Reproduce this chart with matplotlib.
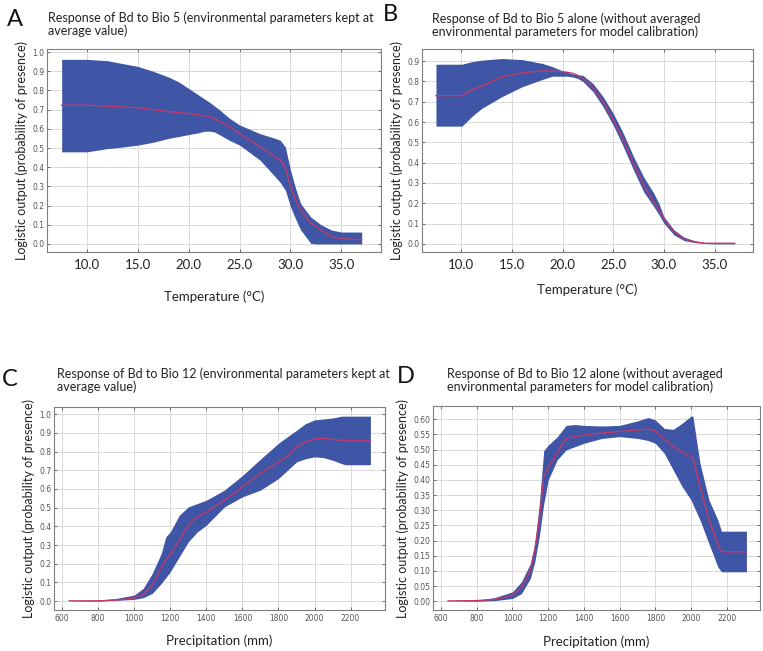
import numpy as np
import matplotlib.pyplot as plt

# ---- data ----
# A: Bio 5, other parameters at average
a_x = [7.5, 10, 12, 13.5, 15, 16.5, 18, 19, 20, 21, 21.5, 22, 22.5, 23, 24, 25, 27, 28.5, 29, 29.5, 30, 30.5, 31, 32, 32.5, 33, 34, 35, 37]
a_mean = [0.723, 0.723, 0.718, 0.714, 0.71, 0.70, 0.69, 0.685, 0.68, 0.672, 0.668, 0.665, 0.655, 0.64, 0.61, 0.575, 0.506, 0.455, 0.437, 0.40, 0.30, 0.229, 0.177, 0.107, 0.09, 0.073, 0.038, 0.027, 0.022]
a_low = [0.48, 0.48, 0.497, 0.505, 0.515, 0.53, 0.55, 0.56, 0.57, 0.58, 0.587, 0.588, 0.584, 0.57, 0.54, 0.515, 0.437, 0.35, 0.32, 0.28, 0.194, 0.13, 0.073, 0.003, 0.0, 0.0, 0.0, 0.0, 0.0]
a_up = [0.962, 0.962, 0.955, 0.94, 0.925, 0.90, 0.87, 0.845, 0.81, 0.775, 0.757, 0.74, 0.72, 0.70, 0.655, 0.62, 0.575, 0.55, 0.54, 0.505, 0.385, 0.29, 0.21, 0.14, 0.12, 0.10, 0.073, 0.062, 0.062]

# B: Bio 5 alone
b_x = [7.5, 10.07, 11, 12, 14, 16, 18, 19, 20, 20.5, 21, 21.5, 22, 23, 24, 25, 26, 27, 28, 29, 29.5, 30, 31, 32, 33, 34, 35, 37]
b_mean = [0.73, 0.73, 0.757, 0.777, 0.823, 0.843, 0.852, 0.852, 0.848, 0.845, 0.84, 0.83, 0.815, 0.77, 0.70, 0.61, 0.511, 0.397, 0.29, 0.208, 0.167, 0.126, 0.061, 0.025, 0.01, 0.003, 0.003, 0.003]
b_low = [0.58, 0.58, 0.626, 0.667, 0.725, 0.774, 0.81, 0.826, 0.826, 0.826, 0.822, 0.815, 0.80, 0.75, 0.675, 0.585, 0.479, 0.364, 0.257, 0.184, 0.145, 0.102, 0.044, 0.016, 0.007, 0.002, 0.0, 0.0]
b_up = [0.885, 0.885, 0.897, 0.905, 0.913, 0.908, 0.889, 0.873, 0.852, 0.845, 0.836, 0.833, 0.83, 0.79, 0.725, 0.643, 0.544, 0.43, 0.33, 0.25, 0.2, 0.134, 0.069, 0.033, 0.016, 0.007, 0.003, 0.003]

# C: Bio 12, other parameters at average
c_x = [640, 800, 900, 1000, 1050, 1100, 1150, 1175, 1200, 1250, 1300, 1350, 1400, 1500, 1600, 1700, 1800, 1850, 1900, 1950, 2000, 2050, 2100, 2150, 2170, 2310]
c_mean = [0.001, 0.001, 0.005, 0.015, 0.035, 0.085, 0.18, 0.22, 0.25, 0.326, 0.406, 0.451, 0.477, 0.54, 0.611, 0.683, 0.745, 0.775, 0.826, 0.852, 0.868, 0.872, 0.866, 0.86, 0.858, 0.858]
c_low = [0.0, 0.0, 0.004, 0.009, 0.018, 0.041, 0.094, 0.125, 0.157, 0.237, 0.317, 0.37, 0.406, 0.504, 0.558, 0.594, 0.656, 0.70, 0.745, 0.762, 0.772, 0.768, 0.754, 0.736, 0.73, 0.73]
c_up = [0.0, 0.005, 0.014, 0.032, 0.068, 0.148, 0.255, 0.344, 0.37, 0.46, 0.504, 0.522, 0.54, 0.594, 0.672, 0.76, 0.845, 0.88, 0.914, 0.95, 0.97, 0.975, 0.98, 0.99, 0.99, 0.99]

# D: Bio 12 alone
d_x = [640, 800, 900, 1000, 1050, 1100, 1125, 1150, 1175, 1200, 1250, 1300, 1350, 1400, 1500, 1600, 1700, 1760, 1800, 1850, 1900, 1950, 2000, 2010, 2050, 2100, 2150, 2170, 2310]
d_mean = [0.001, 0.002, 0.006, 0.02, 0.045, 0.1, 0.17, 0.27, 0.41, 0.44, 0.49, 0.537, 0.543, 0.548, 0.555, 0.56, 0.565, 0.568, 0.562, 0.535, 0.51, 0.492, 0.477, 0.475, 0.38, 0.27, 0.19, 0.163, 0.163]
d_low = [0.0, 0.0, 0.002, 0.009, 0.025, 0.075, 0.13, 0.213, 0.32, 0.40, 0.466, 0.499, 0.51, 0.521, 0.537, 0.543, 0.537, 0.53, 0.521, 0.488, 0.433, 0.378, 0.334, 0.32, 0.268, 0.19, 0.113, 0.097, 0.097]
d_up = [0.0, 0.003, 0.012, 0.031, 0.064, 0.124, 0.19, 0.32, 0.497, 0.515, 0.542, 0.58, 0.583, 0.58, 0.578, 0.58, 0.595, 0.606, 0.598, 0.57, 0.567, 0.587, 0.611, 0.611, 0.455, 0.334, 0.268, 0.231, 0.231]

titles = ["Response of Bd to Bio 5 (environmental parameters kept at\naverage value)",
          "Response of Bd to Bio 5 alone (without averaged\nenvironmental parameters for model calibration)",
          "Response of Bd to Bio 12 (environmental parameters kept at\naverage value)",
          "Response of Bd to Bio 12 alone (without averaged\nenvironmental parameters for model calibration)"]
letters = ["A", "B", "C", "D"]
xlabels = ["Temperature (\u00b0C)", "Temperature (\u00b0C)", "Precipitation (mm)", "Precipitation (mm)"]
ylab = "Logistic output (probability of presence)"

W, H = 763, 651
band_col = "#3f55a5"
line_col = "#c03a6c"
txt = ["Lato", "DejaVu Sans"]

fig = plt.figure(figsize=(W / 100, H / 100), dpi=100)

def px_axes(l, t, r, b):
    return fig.add_axes([l / W, 1 - b / H, (r - l) / W, (b - t) / H])

# left, top, right, bottom in pixels
boxes = [(47, 49, 381, 252), (422, 49, 753, 252), (54, 407, 385, 610), (433, 406, 760, 610)]
title_xy = [(48, 11), (432, 12), (57, 367), (447, 367)]
letter_xy = [(7, 26), (383, 21), (2, 386), (397, 383)]
xlab_pad = [14, 9, 8, 9]
series = [(a_x, a_mean, a_low, a_up), (b_x, b_mean, b_low, b_up),
          (c_x, c_mean, c_low, c_up), (d_x, d_mean, d_low, d_up)]
xlims = [(6.06, 38.9), (6.12, 38.8), (555, 2391), (555, 2386)]
ylims = [(-0.042, 1.016), (-0.04, 0.96), (-0.048, 1.039), (-0.029, 0.644)]
yticks = [np.arange(0, 1.01, 0.1), np.arange(0, 0.91, 0.1), np.arange(0, 1.01, 0.1), np.arange(0, 0.601, 0.05)]
yfmt = ["{:.1f}", "{:.1f}", "{:.1f}", "{:.2f}"]

for i in range(4):
    ax = px_axes(*boxes[i])
    x, m, lo, up = series[i]
    ax.fill_between(x, lo, up, color=band_col, lw=0, zorder=2)
    ax.plot(x, m, color=line_col, lw=1.0, zorder=3)
    ax.set_xlim(*xlims[i])
    ax.set_ylim(*ylims[i])
    ax.set_yticks(yticks[i])
    ax.set_yticklabels([yfmt[i].format(v) for v in yticks[i]])
    if i < 2:
        xt = np.arange(10, 36, 5)
        ax.set_xticks(xt)
        ax.set_xticklabels(["{:.1f}".format(v) for v in xt], fontsize=9.5, family=txt, color="#222222")
        ax.tick_params(axis="x", pad=5)
    else:
        xt = np.arange(600, 2201, 200)
        ax.set_xticks(xt)
        ax.set_xticklabels([str(v) for v in xt], fontsize=5.5, color="#555555")
        ax.tick_params(axis="x", pad=3)
    ax.tick_params(axis="y", labelsize=5.5, labelcolor="#555555", pad=2)
    ax.tick_params(direction="in", length=2.5, width=0.6, color="#555555", top=True, right=True)
    ax.grid(True, color="#d9d9d9", lw=0.7, zorder=0)
    ax.set_axisbelow(True)
    for s in ax.spines.values():
        s.set_color("#7f7f7f")
        s.set_linewidth(0.8)
    ax.set_xlabel(xlabels[i], fontsize=9.5, family=txt, color="#222222", labelpad=xlab_pad[i])
    ax.set_ylabel(ylab, fontsize=9, family=txt, color="#222222", labelpad=3)
    tx, ty = title_xy[i]
    fig.text(tx / W, 1 - ty / H, titles[i], fontsize=9.0, family=txt, color="#222222",
             ha="left", va="top", linespacing=1.1)
    lx, ly = letter_xy[i]
    fig.text(lx / W, 1 - ly / H, letters[i], fontsize=17, family=txt, color="#111111",
             ha="left", va="baseline")

fig.savefig("out.png", dpi=100)
